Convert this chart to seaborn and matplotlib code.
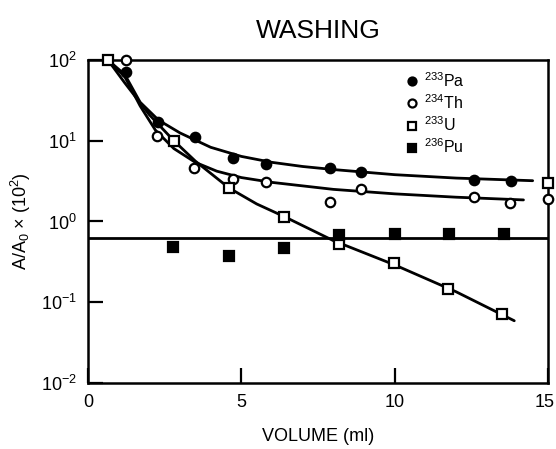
import matplotlib
matplotlib.use("Agg")
import matplotlib.pyplot as plt
import matplotlib.transforms as mtransforms
import seaborn as sns

# --- data ---
pa_x = [1.23, 2.27, 3.49, 4.72, 5.79, 7.89, 8.89, 12.59, 13.78]
pa_y = [72, 17, 11.2, 6.1, 5.2, 4.6, 4.06, 3.24, 3.15]

th_x = [1.24, 2.24, 3.46, 4.74, 5.79, 7.89, 8.89, 12.59, 13.76, 15.0]
th_y = [100, 11.3, 4.6, 3.4, 3.1, 1.73, 2.5, 2.03, 1.68, 1.9]

u_x = [0.64, 2.80, 4.60, 6.39, 8.18, 9.99, 11.74, 13.51, 15.0]
u_y = [100, 10, 2.6, 1.15, 0.53, 0.31, 0.146, 0.071, 2.97]

pu_x = [2.78, 4.60, 6.39, 8.19, 10.01, 11.77, 13.56]
pu_y = [0.48, 0.37, 0.47, 0.69, 0.70, 0.71, 0.70]

# fitted curves as drawn in the figure
pa_cx = [0.65, 1.2, 1.7, 2.3, 3.0, 4.0, 5.0, 6.0, 7.0, 8.0, 10.0, 12.0, 14.5]
pa_cy = [100, 66, 30, 18, 12.5, 8.3, 6.4, 5.4, 4.8, 4.4, 3.8, 3.45, 3.2]
th_cx = [0.65, 1.2, 1.7, 2.2, 2.8, 3.5, 4.2, 5.0, 6.0, 8.0, 10.0, 12.0, 14.2]
th_cy = [100, 62, 27, 13.5, 8.0, 5.4, 4.2, 3.5, 3.05, 2.5, 2.2, 2.0, 1.85]
u_cx = [0.65, 1.2, 2.0, 2.8, 3.5, 4.6, 5.5, 6.4, 8.0, 10.0, 12.0, 13.9]
u_cy = [100, 52, 21, 10, 5.6, 2.6, 1.65, 1.15, 0.58, 0.29, 0.135, 0.059]
pu_cx = [0.0, 15.0]
pu_cy = [0.62, 0.62]

labels = ["$^{233}$Pa", "$^{234}$Th", "$^{233}$U", "$^{236}$Pu"]
xtick_vals = [0, 5, 10, 15]
xtick_labels = ["0", "5", "10", "15"]
ytick_vals = [1e-2, 1e-1, 1e0, 1e1, 1e2]
ytick_labels = ["10$^{-2}$", "10$^{-1}$", "10$^{0}$", "10$^{1}$", "10$^{2}$"]

sns.set_style("ticks")
plt.rcParams['font.family'] = ['Liberation Sans', 'DejaVu Sans']
plt.rcParams['mathtext.fontset'] = 'custom'
plt.rcParams['mathtext.rm'] = 'Liberation Sans'
plt.rcParams['mathtext.it'] = 'Liberation Sans'
for k in ['text.color', 'axes.labelcolor', 'xtick.color', 'ytick.color', 'axes.edgecolor']:
    plt.rcParams[k] = 'black'

fig = plt.figure(figsize=(5.56, 4.49), dpi=100)
ax = fig.add_axes([88/556, 1-383/449, (548-88)/556, (383-60)/449])

lw = 2.0
for cx, cy in [(pa_cx, pa_cy), (th_cx, th_cy), (u_cx, u_cy), (pu_cx, pu_cy)]:
    sns.lineplot(x=cx, y=cy, ax=ax, color="black", lw=lw, sort=False,
                 estimator=None, zorder=2)

styles = [
    (pa_x, pa_y, "o", "black"),
    (th_x, th_y, "o", "white"),
    (u_x, u_y, "s", "white"),
    (pu_x, pu_y, "s", "black"),
]
for (xs, ys, m, fc), lab in zip(styles, labels):
    ax.plot(xs, ys, linestyle="none", marker=m, markersize=6.8,
            markerfacecolor=fc, markeredgecolor="black", markeredgewidth=1.6,
            clip_on=False, zorder=4, label=lab)

ax.set_yscale("log")
ax.set_xlim(0, 15)
ax.set_ylim(1e-2, 1e2)
ax.set_xticks(xtick_vals)
ax.set_xticklabels(xtick_labels)
ax.set_yticks(ytick_vals)
ax.set_yticklabels(ytick_labels)
ax.minorticks_off()
ax.tick_params(direction="in", length=11, width=1.6, labelsize=13, pad=8)
for s in ax.spines.values():
    s.set_linewidth(1.8)

# keep the last x tick label inside the image
last = ax.get_xticklabels()[-1]
last.set_transform(last.get_transform() +
                   mtransforms.ScaledTranslation(-3/100, 0, fig.dpi_scale_trans))

ax.set_xlabel("VOLUME (ml)", fontsize=13, labelpad=12)
ax.set_ylabel("A/A$_0$ × (10$^2$)", fontsize=13, labelpad=6)
ax.set_title("WASHING", fontsize=19, pad=16)

leg = ax.legend(loc="upper left", bbox_to_anchor=(0.655, 1.01), frameon=False,
                fontsize=11.5, handletextpad=0.25, labelspacing=0.22,
                handlelength=1.0, markerscale=0.85)

fig.savefig("out.png", dpi=100)
